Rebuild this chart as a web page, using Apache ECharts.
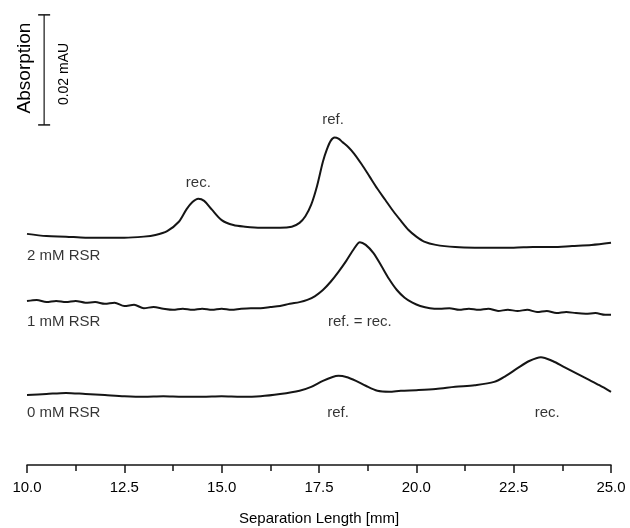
<!DOCTYPE html>
<html>
<head>
<meta charset="utf-8">
<script src="https://cdn.jsdelivr.net/npm/echarts@6/dist/echarts.min.js"></script>
<style>
html,body{margin:0;padding:0;background:#fff;}
#c{width:630px;height:528px;}
</style>
</head>
<body>
<div id="c"></div>
<script>
// ---- data (x: separation length in mm, y: absorption in 1e-3 mAU, traces stacked with offsets) ----
var xTicks = [10.0, 12.5, 15.0, 17.5, 20.0, 22.5, 25.0];

var rsr2mM_x = [10.0,10.5,11.0,11.5,12.0,12.5,13.0,13.3,13.6,13.9,14.1,14.25,14.4,14.55,14.75,15.0,15.3,15.6,16.0,16.5,16.8,17.0,17.15,17.3,17.45,17.6,17.7,17.8,17.9,18.0,18.1,18.25,18.4,18.6,18.8,19.0,19.2,19.4,19.6,19.8,20.0,20.2,20.5,21.0,21.5,22.0,22.5,23.0,23.5,24.0,24.5,25.0];
var rsr2mM_y = [42.0,41.6,41.5,41.3,41.3,41.3,41.5,41.8,42.5,44.2,46.5,47.8,48.4,48.0,46.4,44.5,43.6,43.3,43.1,43.1,43.3,44.0,45.2,47.3,50.7,55.1,57.3,58.9,59.5,59.3,58.7,57.8,56.6,54.6,52.4,50.2,48.2,46.2,44.4,42.7,41.5,40.6,40.0,39.6,39.5,39.5,39.5,39.6,39.6,39.8,40.0,40.4];

var rsr1mM_x = [10.0,10.25,10.5,10.75,11.0,11.25,11.5,11.75,12.0,12.25,12.5,12.75,13.0,13.25,13.5,13.75,14.0,14.25,14.5,14.75,15.0,15.25,15.5,15.75,16.0,16.25,16.5,16.75,17.0,17.2,17.4,17.6,17.8,18.0,18.2,18.4,18.55,18.7,18.9,19.1,19.3,19.5,19.7,19.9,20.1,20.35,20.6,20.85,21.1,21.35,21.6,21.85,22.1,22.35,22.6,22.85,23.1,23.35,23.6,23.85,24.1,24.35,24.6,24.85,25.0];
var rsr1mM_y = [29.8,30.0,29.6,29.8,29.6,29.8,29.5,29.6,29.3,29.5,28.9,29.1,28.5,28.7,28.4,28.2,28.4,28.2,28.4,28.2,28.4,28.2,28.4,28.5,28.5,28.7,28.9,29.3,29.6,30.0,30.7,31.8,33.3,35.1,37.1,39.3,40.5,40.0,38.5,36.2,33.8,31.8,30.4,29.5,28.9,28.5,28.4,28.5,28.2,28.4,28.2,28.4,28.0,28.2,28.0,28.2,27.8,28.0,27.6,27.8,27.6,27.5,27.6,27.3,27.3];

var rsr0mM_x = [10.0,10.5,11.0,11.5,12.0,12.5,13.0,13.5,14.0,14.5,15.0,15.5,16.0,16.5,17.0,17.3,17.6,17.85,18.0,18.2,18.45,18.7,19.0,19.3,19.6,20.0,20.5,21.0,21.5,22.0,22.3,22.6,22.9,23.2,23.5,23.8,24.1,24.4,24.7,25.0];
var rsr0mM_y = [12.7,12.9,13.1,12.9,12.7,12.5,12.4,12.5,12.4,12.4,12.5,12.4,12.5,12.9,13.5,14.2,15.3,16.0,16.2,16.0,15.3,14.4,13.5,13.3,13.5,13.6,13.8,14.2,14.5,15.1,16.2,17.6,18.9,19.6,18.9,17.8,16.7,15.6,14.5,13.3];

var scaleBarValue = 20; // 0.02 mAU in 1e-3 mAU units
var scaleBarLabel = '0.02 mAU';

function zip(xs, ys){ return xs.map(function(x,i){ return [x, ys[i]]; }); }

// ---- chart config ----
var FONT = '"Liberation Sans", Arial, sans-serif';
var INK = '#151515';
var barX = 10.44, barY0 = 61.8;

var annotations = [
  {v:[14.4, 51.3], t:'rec.', a:'center'},
  {v:[17.86, 62.7], t:'ref.', a:'center'},
  {v:[10.0, 38.0], t:'2 mM RSR', a:'left'},
  {v:[10.0, 26.0], t:'1 mM RSR', a:'left'},
  {v:[18.55, 26.0], t:'ref. = rec.', a:'center'},
  {v:[10.0, 9.45], t:'0 mM RSR', a:'left'},
  {v:[17.99, 9.45], t:'ref.', a:'center'},
  {v:[23.36, 9.45], t:'rec.', a:'center'}
];

function trace(name, xs, ys){
  return {
    name: name, type: 'line', data: zip(xs, ys), showSymbol: false, symbol: 'none',
    smooth: 0.3, lineStyle: {color: INK, width: 2}, silent: true, animation: false, z: 3
  };
}

var chart = echarts.init(document.getElementById('c'), null, {renderer: 'canvas'});
chart.setOption({
  backgroundColor: '#fff',
  animation: false,
  grid: {left: 27, right: 19, top: 0, bottom: 63, containLabel: false, outerBoundsMode: 'none'},
  xAxis: {
    type: 'value', min: 10, max: 25, interval: 2.5,
    axisLine: {show: true, lineStyle: {color: INK, width: 1.5}},
    axisTick: {show: true, inside: false, length: 8, lineStyle: {color: INK, width: 1.5}},
    minorTick: {show: true, splitNumber: 2, length: 6, lineStyle: {color: INK, width: 1.5}},
    splitLine: {show: false},
    axisLabel: {color: '#000', fontSize: 15, fontFamily: FONT, margin: 15,
      formatter: function(v){ return v.toFixed(1); }},
    name: 'Separation Length [mm]', nameLocation: 'middle', nameGap: 46,
    nameTextStyle: {color: '#000', fontSize: 15, fontFamily: FONT}
  },
  yAxis: {
    type: 'value', min: 0, max: 84.5, show: false, splitLine: {show: false}
  },
  series: [
    trace('2 mM RSR', rsr2mM_x, rsr2mM_y),
    trace('1 mM RSR', rsr1mM_x, rsr1mM_y),
    trace('0 mM RSR', rsr0mM_x, rsr0mM_y),
    {
      name: 'scale', type: 'line', animation: false, silent: true,
      data: [[barX, barY0], [barX, barY0 + scaleBarValue]],
      symbol: 'rect', symbolSize: [12, 1.5], showSymbol: true,
      itemStyle: {color: INK}, lineStyle: {color: INK, width: 1.2}
    },
    {
      name: 'labels', type: 'scatter', animation: false, silent: true,
      symbolSize: 0,
      data: annotations.map(function(a){
        return {value: a.v, label: {show: true, formatter: a.t, position: 'inside', align: a.a,
          verticalAlign: 'middle', color: '#000', fontSize: 15, fontFamily: FONT}};
      })
    }
  ],
  graphic: [
    {type: 'text', x: 25, y: 68, rotation: Math.PI/2,
      style: {text: 'Absorption', fill: '#000', font: '19px ' + FONT, align: 'center', verticalAlign: 'middle'}},
    {type: 'text', x: 64, y: 74, rotation: Math.PI/2,
      style: {text: scaleBarLabel, fill: '#000', font: '14px ' + FONT, align: 'center', verticalAlign: 'middle'}}
  ]
});
</script>
</body>
</html>
